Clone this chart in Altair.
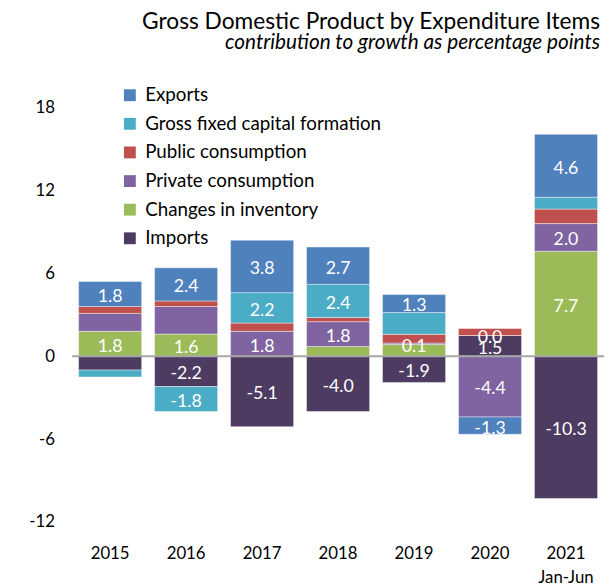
import altair as alt
import pandas as pd

years = ["2015", "2016", "2017", "2018", "2019", "2020", "2021 Jan-Jun"]
series = ["Imports", "Changes in inventory", "Private consumption",
          "Public consumption", "Gross fixed capital formation", "Exports"]
legend_order = ["Exports", "Gross fixed capital formation", "Public consumption",
                "Private consumption", "Changes in inventory", "Imports"]
colors = ["#4F81BD", "#4BACC6", "#C0504D", "#8064A2", "#9BBB59", "#4E3B62"]

imports = [-1.0, -2.2, -5.1, -4.0, -1.9, 1.5, -10.3]
inventory = [1.8, 1.6, 0.0, 0.7, 0.85, 0.0, 7.6]
private = [1.3, 2.0, 1.8, 1.8, 0.1, -4.4, 2.0]
public = [0.5, 0.4, 0.6, 0.3, 0.64, 0.53, 1.05]
gfcf = [-0.5, -1.8, 2.2, 2.4, 1.57, 0.0, 0.86]
exports = [1.8, 2.4, 3.8, 2.7, 1.3, -1.25, 4.55]

imports_lbl = ["", "-2.2", "-5.1", "-4.0", "-1.9", "1.5", "-10.3"]
inventory_lbl = ["1.8", "1.6", "", "", "", "0.0", "7.7"]
private_lbl = ["", "", "1.8", "1.8", "0.1", "-4.4", "2.0"]
public_lbl = ["", "", "", "", "", "", ""]
gfcf_lbl = ["", "-1.8", "2.2", "2.4", "", "", ""]
exports_lbl = ["1.8", "2.4", "3.8", "2.7", "1.3", "-1.3", "4.6"]

y_ticks = [-12, -6, 0, 6, 12, 18]

vals = [imports, inventory, private, public, gfcf, exports]
lbls = [imports_lbl, inventory_lbl, private_lbl, public_lbl, gfcf_lbl, exports_lbl]
rows = []
for k, (name, v, l) in enumerate(zip(series, vals, lbls)):
    for y, val, lab in zip(years, v, l):
        rows.append({"year": y, "series": name, "order": k, "value": val, "label": lab})
df = pd.DataFrame(rows)

FONT = "Lato"

base = alt.Chart(df).transform_stack(
    stack="value", groupby=["year"], as_=["v0", "v1"],
    sort=[alt.SortField("order", order="ascending")], offset="zero"
).transform_calculate(mid="(datum.v0 + datum.v1) / 2")

xenc = alt.X("year:N", sort=years, title=None,
             scale=alt.Scale(paddingInner=0.17, paddingOuter=0.085),
             axis=alt.Axis(labelAngle=0, domain=False, ticks=False, labelFontSize=17,
                           labelFont=FONT, labelColor="#000000", labelPadding=24,
                           labelLineHeight=24,
                           labelExpr="datum.value == '2021 Jan-Jun' ? ['2021', 'Jan-Jun'] : datum.value"))
yscale = alt.Scale(domain=[-12, 18], nice=False)

bars = base.mark_bar(stroke="#ffffff", strokeWidth=0.6, strokeOpacity=0.7).encode(
    x=xenc,
    y=alt.Y("v0:Q", scale=yscale, title=None,
            axis=alt.Axis(values=y_ticks, grid=False, domain=False, ticks=False,
                          labelFontSize=17, labelFont=FONT, labelColor="#000000",
                          labelPadding=18, labelExpr="datum.value + ''")),
    y2="v1:Q",
    color=alt.Color("series:N", scale=alt.Scale(domain=legend_order, range=colors),
                    legend=alt.Legend(title=None, orient="none", legendX=49, legendY=-22,
                                      symbolType="square", symbolSize=144,
                                      symbolStrokeWidth=0, labelFontSize=19,
                                      labelFont=FONT, labelColor="#000000", labelLimit=0,
                                      labelOffset=6, rowPadding=9)),
)

zero = alt.Chart(pd.DataFrame({"z": [0]})).mark_rule(color="#a6a6a6", strokeWidth=2).encode(
    y=alt.Y("z:Q", scale=yscale))

texts = base.mark_text(color="white", fontSize=18, font=FONT, baseline="middle", dy=3).encode(
    x=alt.X("year:N", sort=years),
    y=alt.Y("mid:Q", scale=yscale),
    text="label:N",
)

chart = alt.layer(bars, zero, texts).properties(
    width=539, height=420,
    autosize=alt.AutoSizeParams(type="none"),
    padding={"left": 65, "top": 97, "right": 0, "bottom": 62},
    title=alt.Title("Gross Domestic Product by Expenditure Items",
                    subtitle="contribution to growth as percentage points",
                    anchor="end", dx=-5, offset=33, font=FONT, fontSize=23,
                    fontWeight="normal", color="#000000",
                    subtitleFont=FONT, subtitleFontSize=21, subtitleFontStyle="italic",
                    subtitleColor="#000000", subtitlePadding=-1),
).configure_view(stroke=None)

chart.save("out.html", embed_options={"renderer": "svg", "actions": False})
